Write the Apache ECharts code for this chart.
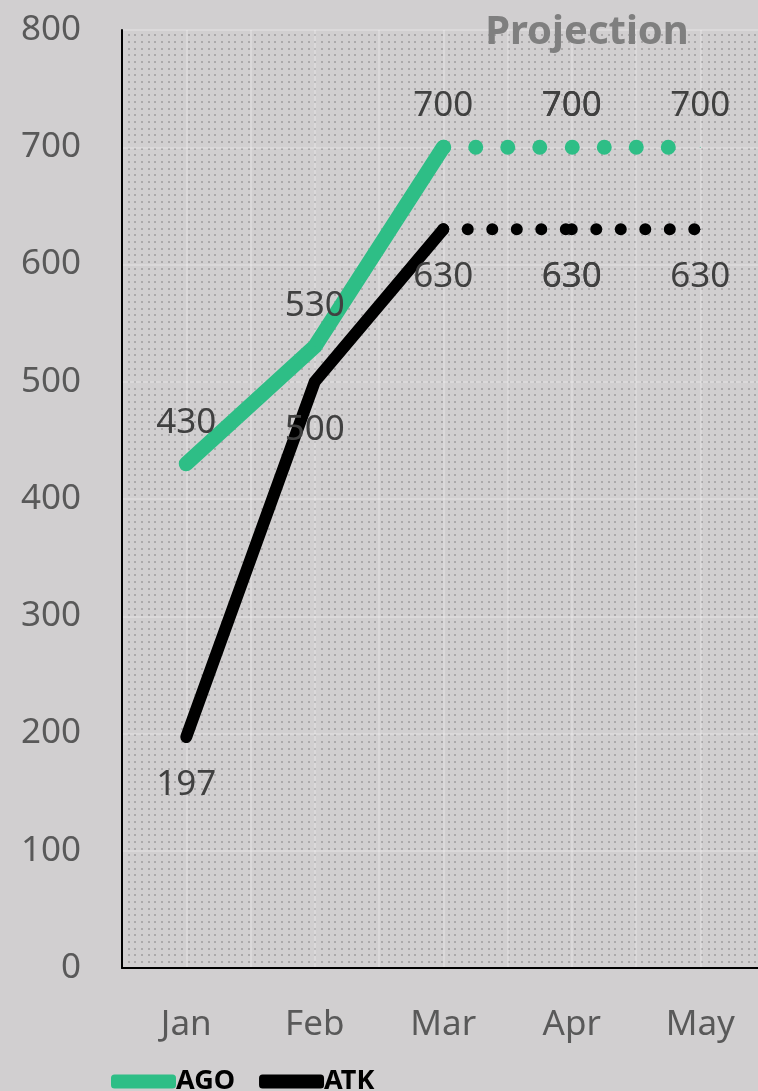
<!DOCTYPE html>
<html>
<head>
<meta charset="utf-8">
<style>
  html, body { margin: 0; padding: 0; background: #d1cfd0; }
  #chart { width: 758px; height: 1091px; }
</style>
<script src="https://cdn.jsdelivr.net/npm/echarts@6/dist/echarts.min.js"></script>
</head>
<body>
<div id="chart"></div>
<script>
const categories = ['Jan', 'Feb', 'Mar', 'Apr', 'May'];
const agoActual = [430, 530, 700, null, null];
const agoProjection = [null, null, 700, 700, 700];
const atkActual = [197, 500, 630, null, null];
const atkProjection = [null, null, 630, 630, 630];
const yMin = 0, yMax = 800, yStep = 100;
const titleText = 'Projection';

const GREEN = '#2ebe86';
const BLACK = '#000000';
const FONT = 'Noto Sans';

// dotted texture for the plot area
const tile = document.createElement('canvas');
tile.width = 20; tile.height = 20;
const tctx = tile.getContext('2d');
tctx.fillStyle = '#d1cfd0';
tctx.fillRect(0, 0, 20, 20);
tctx.fillStyle = '#aba9aa';
[1, 8, 14].forEach(x => [1, 8, 14].forEach(y => tctx.fillRect(x, y, 2, 2)));

const chart = echarts.init(document.getElementById('chart'), null, { renderer: 'canvas' });

function segmentSeries(name, proj, actual, color, width, gap, offset, labelPos, dist) {
  const out = [];
  for (let i = 0; i < proj.length - 1; i++) {
    if (proj[i] == null || proj[i + 1] == null) continue;
    const seg = proj.map((v, j) => (j === i || j === i + 1) ? v : null);
    out.push({
      name: name,
      type: 'line',
      data: seg,
      symbol: 'circle',
      symbolSize: 1,
      itemStyle: { color: color },
      lineStyle: { color: color, width: width, type: [0.01, gap], dashOffset: offset, cap: 'round' },
      label: {
        show: true,
        position: labelPos,
        distance: dist,
        fontFamily: FONT,
        fontSize: 35,
        color: '#404040',
        formatter: p => (actual[p.dataIndex] != null || p.value == null) ? '' : String(p.value)
      },
      z: 3
    });
  }
  return out;
}

const option = {
  animation: false,
  backgroundColor: '#d1cfd0',
  title: {
    text: titleText,
    left: 582,
    textAlign: 'center',
    top: 8,
    textStyle: { fontFamily: FONT, fontWeight: 'bold', fontSize: 40, color: '#7f7f7f' }
  },
  legend: {
    left: 106,
    top: 1063,
    icon: 'roundRect',
    itemWidth: 65,
    itemHeight: 14,
    itemGap: 24,
    data: ['AGO', 'ATK'],
    textStyle: { fontFamily: FONT, fontWeight: 'bold', fontSize: 27, color: '#000', padding: [0, 0, 0, -5] }
  },
  grid: {
    left: 122, right: -6.5, top: 30, bottom: 123,
    outerBoundsMode: 'none',
    containLabel: false,
    show: true,
    borderWidth: 0,
    backgroundColor: { image: tile, repeat: 'repeat' }
  },
  xAxis: [
    {
      type: 'category',
      data: categories,
      boundaryGap: true,
      axisLine: { show: true, lineStyle: { color: '#000', width: 2 } },
      axisTick: { show: false },
      splitLine: { show: false },
      axisLabel: { fontFamily: FONT, fontSize: 35, color: '#595959', margin: 40 }
    },
    {
      type: 'value',
      min: 0, max: 10, interval: 1,
      position: 'bottom',
      axisLine: { show: false },
      axisTick: { show: false },
      axisLabel: { show: false },
      splitLine: { show: true, lineStyle: { color: 'rgba(255,255,255,0.3)', width: 1.5 } }
    }
  ],
  yAxis: {
    type: 'value',
    min: yMin, max: yMax, interval: yStep,
    axisLine: { show: true, lineStyle: { color: '#000', width: 2 } },
    axisTick: { show: false },
    axisLabel: { fontFamily: FONT, fontSize: 35, color: '#595959', margin: 41 },
    splitLine: { show: true, lineStyle: { color: 'rgba(255,255,255,0.3)', width: 1.5 } }
  },
  series: [
    ...segmentSeries('AGO', agoProjection, agoActual, GREEN, 15, 32, -0.5, 'top', 23),
    ...segmentSeries('ATK', atkProjection, atkActual, BLACK, 12, 24.5, 0, 'bottom', 30),
    {
      name: 'AGO',
      type: 'line',
      data: agoActual,
      symbol: 'circle',
      symbolSize: 1,
      itemStyle: { color: GREEN },
      lineStyle: { color: GREEN, width: 15, cap: 'round', join: 'round' },
      label: { show: true, position: 'top', distance: 23, fontFamily: FONT, fontSize: 35, color: '#404040' },
      z: 4
    },
    {
      name: 'ATK',
      type: 'line',
      data: atkActual,
      symbol: 'circle',
      symbolSize: 1,
      itemStyle: { color: BLACK },
      lineStyle: { color: BLACK, width: 12, cap: 'round', join: 'round' },
      label: { show: true, position: 'bottom', distance: 30, fontFamily: FONT, fontSize: 35, color: '#404040' },
      z: 4
    }
  ]
};
chart.setOption(option);
</script>
</body>
</html>
